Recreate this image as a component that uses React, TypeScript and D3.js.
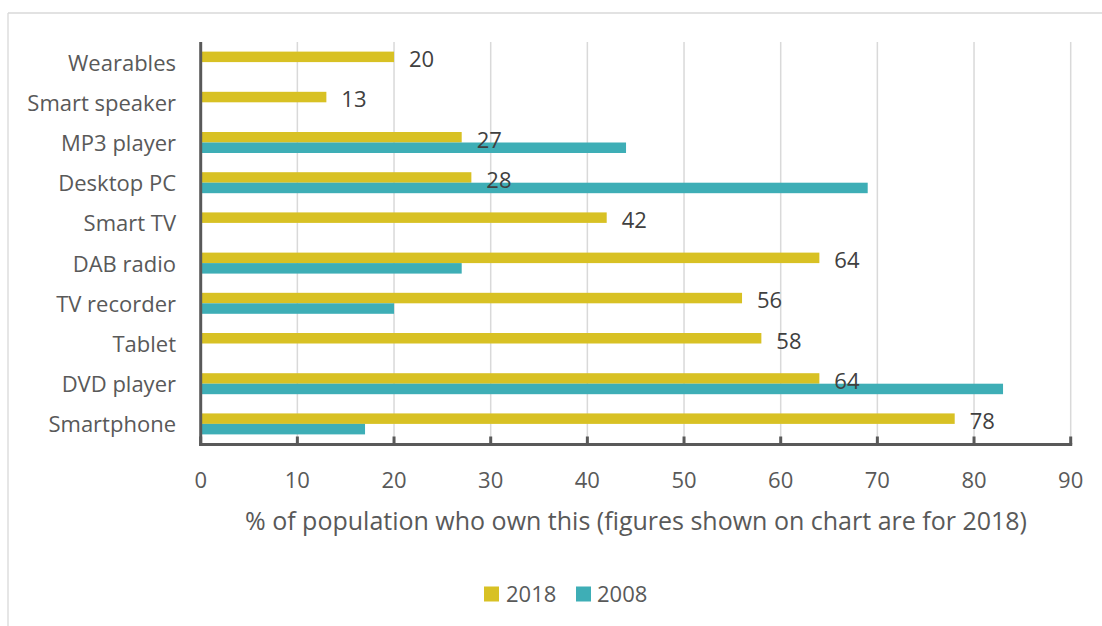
import React from "react";
import * as d3 from "d3";

const categories = ["Wearables", "Smart speaker", "MP3 player", "Desktop PC", "Smart TV", "DAB radio", "TV recorder", "Tablet", "DVD player", "Smartphone"];
const values2018 = [20, 13, 27, 28, 42, 64, 56, 58, 64, 78];
const values2008: (number | null)[] = [null, null, 44, 69, null, 27, 20, null, 83, 17];
const seriesNames = ["2018", "2008"];
const xTicks = [0, 10, 20, 30, 40, 50, 60, 70, 80, 90];
const axisTitle = "% of population who own this (figures shown on chart are for 2018)";

const W = 1102, H = 626;
const COL2018 = "#D8C124";
const COL2008 = "#3EAEB6";
const FONT = "'Open Sans', 'Noto Sans', sans-serif";

export default function App() {
  const x = d3.scaleLinear().domain([0, 90]).range([200.7, 1070.7]);
  const y = d3.scaleBand<string>().domain(categories).range([42, 444]).paddingInner(0.478).paddingOuter(0.239);
  const sub = d3.scaleBand<string>().domain(seriesNames).range([0, y.bandwidth()]);
  const plotTop = 42, plotBottom = 444.5;

  return (
    <svg width={W} height={H} style={{ position: "absolute", left: 0, top: 0, background: "#fff" }} fontFamily={FONT}>
      {/* outer frame */}
      <line x1={8} x2={W} y1={13} y2={13} stroke="#D9D9D9" strokeWidth={1.3} />
      <line x1={8} x2={8} y1={13} y2={H} stroke="#D9D9D9" strokeWidth={1.3} />
      {/* grid */}
      {xTicks.slice(1).map((t) => (
        <line key={"g" + t} x1={x(t)} x2={x(t)} y1={plotTop} y2={plotBottom} stroke="#D9D9D9" strokeWidth={1.5} />
      ))}
      {/* bars */}
      {categories.map((c, i) => {
        const y0 = y(c)!;
        const v8 = values2008[i];
        return (
          <g key={c}>
            <rect x={x(0)} y={y0 + sub("2018")!} width={x(values2018[i]) - x(0)} height={sub.bandwidth()} fill={COL2018} />
            {v8 != null && (
              <rect x={x(0)} y={y0 + sub("2008")!} width={x(v8) - x(0)} height={sub.bandwidth()} fill={COL2008} />
            )}
          </g>
        );
      })}
      {/* axes */}
      <line x1={x(0)} x2={x(0)} y1={plotTop} y2={plotBottom + 1.5} stroke="#595959" strokeWidth={3} />
      <line x1={x(0) - 1.5} x2={x(90) + 1.5} y1={plotBottom} y2={plotBottom} stroke="#595959" strokeWidth={3} />
      {xTicks.map((t) => (
        <line key={"t" + t} x1={x(t)} x2={x(t)} y1={plotBottom - 8} y2={plotBottom} stroke="#595959" strokeWidth={3} />
      ))}
      {/* tick labels */}
      {xTicks.map((t) => (
        <text key={"l" + t} x={x(t)} y={487.5} textAnchor="middle" fontSize={22} fill="#595959">{t}</text>
      ))}
      {/* category labels */}
      {categories.map((c) => (
        <text key={"c" + c} x={176} y={y(c)! + y.bandwidth() / 2 + 8.5} textAnchor="end" fontSize={22} fill="#595959">{c}</text>
      ))}
      {/* value labels */}
      {categories.map((c, i) => (
        <text key={"v" + c} x={x(values2018[i]) + 15} y={y(c)! + y.bandwidth() / 2 + 5} textAnchor="start" fontSize={22} fill="#404040">{values2018[i]}</text>
      ))}
      {/* axis title */}
      <text x={636} y={530} textAnchor="middle" fontSize={25} fill="#595959">{axisTitle}</text>
      {/* legend */}
      <rect x={484} y={586.5} width={15} height={15} fill={COL2018} />
      <text x={506} y={602} fontSize={22} fill="#595959">{seriesNames[0]}</text>
      <rect x={576} y={586.5} width={15} height={15} fill={COL2008} />
      <text x={597} y={602} fontSize={22} fill="#595959">{seriesNames[1]}</text>
    </svg>
  );
}
